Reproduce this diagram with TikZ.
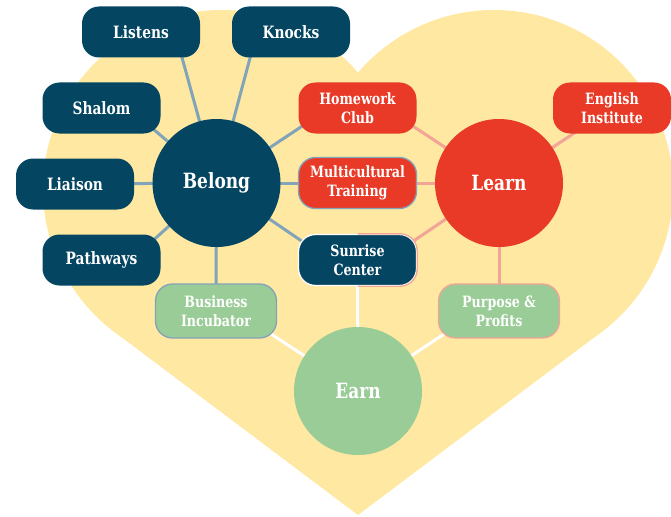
\documentclass[tikz,border=0pt]{standalone}
\usepackage{fontspec}
\setmainfont{DejaVu Serif Condensed}[FakeStretch=0.9]
\usetikzlibrary{calc}
\definecolor{navy}{HTML}{044562}
\definecolor{redc}{HTML}{E83A26}
\definecolor{greenc}{HTML}{99CC96}
\definecolor{heartc}{HTML}{FFE8A2}
\definecolor{linkblue}{HTML}{82A4B8}
\definecolor{linkpink}{HTML}{F2A597}
\pgfdeclarelayer{heartlayer}
\pgfdeclarelayer{linelayer}
\pgfsetlayers{heartlayer,linelayer,main}
\begin{document}
\begin{tikzpicture}[x=1pt,y=-1pt,
  box/.style={rounded corners=17pt, minimum width=118pt, minimum height=51pt,
    inner sep=0pt, align=center, text=white,
    font=\bfseries\fontsize{15.6}{19.2}\selectfont},
  onebox/.style={box, font=\bfseries\fontsize{17}{20}\selectfont},
  hub/.style={circle, minimum size=128pt, inner sep=0pt, text=white,
    font=\bfseries\fontsize{21}{24}\selectfont},
  blink/.style={draw=linkblue, line width=3pt},
  plink/.style={draw=linkpink, line width=3pt},
  wlink/.style={draw=white, line width=3pt}]
\useasboundingbox (0,0) rectangle (671,516);

% hubs
\node[hub, fill=navy] (belong) at (216.5,183) {Belong};
\node[hub, fill=redc] (learn) at (499,183) {Learn};
\node[hub, fill=greenc] (earn) at (358,391) {Earn};

% belong boxes
\node[onebox, fill=navy] (listens) at (141,32) {Listens};
\node[onebox, fill=navy] (knocks) at (291,32) {Knocks};
\node[onebox, fill=navy] (shalom) at (101.5,108) {Shalom};
\node[onebox, fill=navy] (liaison) at (75,184) {Liaison};
\node[onebox, fill=navy] (pathways) at (101.5,260) {Pathways};

% middle boxes
\node[box, fill=redc] (homework) at (357.5,108) {Homework\\Club};
\node[box, fill=redc, draw=linkblue, line width=1.3pt] (multi) at (357.5,183) {Multicultural\\Training};
\node[box, fill=navy, draw=white, line width=1.3pt] (sunrise) at (357.5,260) {Sunrise\\Center};
\begin{scope}
  \clip (sunrise.north) rectangle ($(sunrise.south east)+(4,4)$);
  \draw[linkpink, line width=1.3pt, rounded corners=17pt] (sunrise.south west) rectangle (sunrise.north east);
\end{scope}

\node[box, fill=redc] (english) at (612,108) {English\\Institute};
\node[box, fill=greenc, draw=linkblue, line width=1.3pt, minimum width=121pt, minimum height=54pt] (business) at (216,311) {Business\\Incubator};
\node[box, fill=greenc, draw=linkpink, line width=1.3pt, minimum width=121pt, minimum height=54pt] (purpose) at (499,311) {Purpose \&\\Profits};

\begin{pgfonlayer}{linelayer}
  \draw[blink] (belong.center) -- ($(listens.center)+(34,0)$);
  \draw[blink] (belong.center) -- ($(knocks.center)+(-34,0)$);
  \draw[blink] (belong.center) -- ($(shalom.center)+(27,0)$);
  \draw[blink] (belong.center) -- (liaison.center);
  \draw[blink] (belong.center) -- ($(pathways.center)+(30,0)$);
  \draw[blink] (belong.center) -- ($(homework.center)+(-28,0)$);
  \draw[blink] (belong.center) -- (multi.center);
  \draw[blink] (belong.center) -- ($(sunrise.center)+(-28,0)$);
  \draw[blink] (belong.center) -- (business.center);
  \draw[plink] (learn.center) -- ($(homework.center)+(28,0)$);
  \draw[plink] (learn.center) -- (multi.center);
  \draw[plink] (learn.center) -- ($(sunrise.center)+(28,0)$);
  \draw[plink] (learn.center) -- (english.center);
  \draw[plink] (learn.center) -- (purpose.center);
  \draw[wlink] (earn.center) -- ($(business.center)+(20,0)$);
  \draw[wlink] (earn.center) -- (sunrise.center);
  \draw[wlink] (earn.center) -- ($(purpose.center)+(-20,0)$);
\end{pgfonlayer}

\begin{pgfonlayer}{heartlayer}
  \fill[heartc] (222,189) circle[radius=179];
  \fill[heartc] (494,189) circle[radius=179];
  \fill[heartc] (358,515) -- (114.9,332.2) -- (222,189) -- (358,75) -- (494,189) -- (601.1,332.2) -- cycle;
\end{pgfonlayer}
\end{tikzpicture}
\end{document}
